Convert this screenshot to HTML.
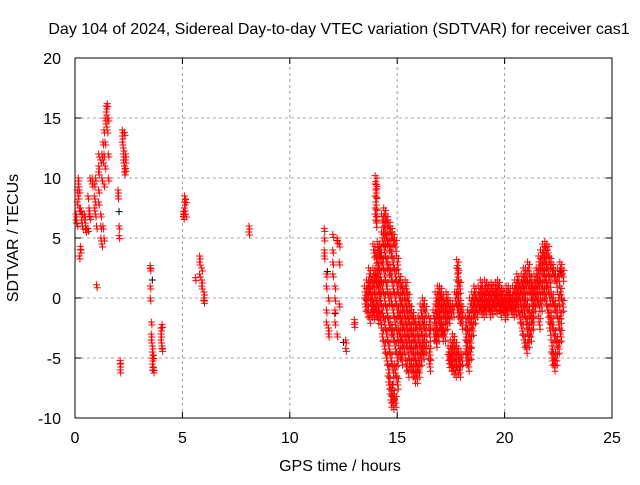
<!DOCTYPE html>
<html><head><meta charset="utf-8"><style>
body{margin:0;background:#fff}
svg text{font-family:"Liberation Sans",sans-serif;font-size:16px;fill:#000}
</style></head><body>
<svg id="chart" width="640" height="480" xmlns="http://www.w3.org/2000/svg">
<rect width="640" height="480" fill="#fff"/>
<text x="339" y="34" text-anchor="middle">Day 104 of 2024, Sidereal Day-to-day VTEC variation (SDTVAR) for receiver cas1</text>
<text transform="translate(18,238) rotate(-90)" text-anchor="middle">SDTVAR / TECUs</text>
<text x="340" y="471" text-anchor="middle">GPS time / hours</text>
<g id="grid"></g>
<g id="axes"></g>
<g id="marks"></g>
</svg>
<script>
const xTicks=[0,5,10,15,20,25];
const yTicks=[-10,-5,0,5,10,15,20];
const groupTimes=[0.05,0.1,0.15,0.2,0.25,0.3,0.35,0.45,0.5,0.6,0.65,0.7,0.8,0.9,0.95,1.0,1.1,1.2,1.25,1.3,1.35,1.4,1.45,1.5,1.55,2.0,2.05,2.1,2.2,2.25,2.3,2.35,3.5,3.55,3.6,3.65,4.0,4.05,5.05,5.1,5.15,5.6,5.8,5.9,6.0,8.1,11.6,11.7,11.8,12.0,12.1,12.2,12.3,12.6,13.0,
13.5,13.6,13.7,13.8,13.9,14.0,14.1,14.2,14.3,14.4,14.5,14.6,14.7,14.8,14.9,15.0,15.1,15.2,15.3,15.4,15.5,15.6,15.7,15.8,15.9,16.0,16.1,16.2,16.3,16.5,16.7,16.8,16.9,17.0,17.1,17.2,17.3,17.4,17.5,17.6,17.7,17.8,17.9,18.0,18.2,18.3,18.4,18.5,18.6,18.7,18.8,18.9,19.0,19.1,19.2,19.3,19.4,19.5,19.6,19.7,19.8,19.9,20.0,20.1,20.2,20.3,20.4,20.5,20.6,20.7,20.8,20.9,21.0,21.1,21.2,21.3,21.4,21.5,21.6,21.7,21.8,21.9,22.0,22.1,22.2,22.3,22.4,22.5,22.6,22.7];
const groupValues=[[6.5,7],[8,9,6.2],[10,9.5,8.5],[9,7.5,3.5],[7.5,4,4.3],[6.5,7.2],[7,6],[7,6.5],[6,5.7],[5.8,8.5],[7.5,7],[6.8,10],
[10,9.5],[9.5,8.5,7.5],[10,8,7],[1.1,6],[12,11,10.5,9,8],[11.5,7,6,5],[12,10,4.5],[13,11.5,6],[14,12,9.5,5],[15,13,11],[16,15.5,14.5],[16.2,15,14],[15,12,10],
[9,8.5],[6,5.2],[-5.5,-6,-5.2],[14,13.5,13],[12.5,12,11.5],[13.8,11,10.5],[12,11.5,10.8],
[2.7,2.5,1,0],[-2,-3,-3.5],[-4,-4.5,-5,-5.5],[-5.8,-6,-4.8],[-2.5,-3,-3.5],[-4,-4.2,-2.2],
[7,6.8,7.2],[8.5,8,7.5],[7,8.2],[1.7],[3.5,3,2],[2.5,1.5,1],[0.5,0,-0.2],[6,5.5],
[5.8,5,4,3.5],[2,1,-1,-2],[-2.5,-3,0],[5.3,4,3,2],[1,0,-1,-2],[-3,5,4.8],[4.5,3,-0.5],[-3.5,-4.2],[-1.8,-2.2],
[0.5,-0.5],[1,0,-1],[2,1,0.5,-1.5],[1.5,0,-1],[4,2,1,-0.5,-1.2],[9.7,9,8,7,6.5,3.5,2,1.5,0,-1],[4.2,3,2,1,-0.5,-1.5],[4,3.5,2,1,0,-1.6],[6.5,5,3,1,-1,-3],[7,6,5,4,2,0,-2,-4],[6.5,5,3,1,-1,-3,-5],[6,4.5,2.5,0,-2,-4,-6,-7],[5.5,4,2,0,-2.5,-5,-7.5,-8.5],[5,3,1,-1,-3,-6,-8,-8.7],[4.5,2,0,-2,-4,-6,-8.5],[3,1,-1,-3,-5,-7],[1.5,0,-1.5,-3,-4.5],[1,-0.5,-2,-3.5,-5],[0.5,-1,-2.5,-4],[1,-0.5,-2,-3.5,-5.5],[0,-1.5,-3,-4.5,-6],[-1,-2.5,-4,-5.5],[-1.5,-3,-4.5,-6],[-2,-3.5,-5,-6.5],[-2.5,-4,-5.5,-6.5],[-2,-3.5,-5,-6],[-1,-2.5,-4,-5],[-0.5,-2,-3.5,-4.5],[-1,-2.5,-4],[-2,-3,-4.5,-5.5],[-1.5,-3],[0,-1,-2,-3,-3.5],[0.5,-0.5,-1.5,-3],[0.5,0,-1,-2,-2.5],[0,-1,-2.5,-3],[-0.5,-1.5,-3],[0,-1,-2],[-0.5,-1.5,-4.5,-5.2],[-1,-4,-5,-5.5],[-1,-3.5,-4.5,-5.8],[0,-4,-5,-6],[2.7,2,1,0,-1,-4.5,-5.8],[1,-0.5,-1.5,-5,-6],[-1,-2,-5],[-2,-3,-4,-5],[-1.5,-3,-4.5,-5.5],[-0.5,-2,-3.5,-4.5],[0,-1,-2.5],[0.5,-0.5,-1.5],[0,-1],[0.5,-0.5],[1,0,-0.8],[0.5,-0.5,-1],[1,0,-0.8],[0.8,-0.3],[0.5,-0.5,-1],[0.8,0,-0.8],[0.5,-0.5],[0.8,0,-0.7],[1,0,-0.5],[0.5,-0.5,-1],[0.3,-0.5],[0,-0.8,-1.2],[0.5,-0.5,-1],[0.5,-0.3],[0,-0.8],[0.5,-0.5,-1],[1,0,-0.8],[1.5,0.5,-0.5],[1,0,-1.5],[1.5,0.5,-1,-2.5],[2,1,0,-1,-3.5],[2,1,-0.5,-2,-4],[2.5,1,-1,-2.5,-3.5],[1.5,0.5,-1.5,-3],[1,0,-1,-2],[1.5,0.5,-0.5],[2,1,0],[3,2,1,-0.5,-2],[3.5,2.5,1,-0.5],[4,3,2,0.5],[4.2,3,1.5,0],[4,2.5,1,-1],[3,1.5,0,-1.5,-2.5],[2.5,0,-2,-4,-5],[2,-0.5,-3,-5,-5.5],[1.5,-1,-3.5,-5],[2,0,-2,-4],[2.5,0.5,-1.5,-3],[2,-0.5]];
const blackTimes=[2.05,3.6,3.62,6.0,11.75,12.1,12.5,14.8,22.6];
const blackValues=[7.2,1.5,-6,-0.2,2.2,-1.3,-3.7,-7.2,2.2];
const X0=75,X1=612,Y0=418,Y1=58;
const sx=t=>X0+(t-0)/(25-0)*(X1-X0);
const sy=v=>Y0-(v-(-10))/(20-(-10))*(Y0-Y1);
const NS="http://www.w3.org/2000/svg";
const grid=document.getElementById('grid'),axes=document.getElementById('axes'),marks=document.getElementById('marks');
function mk(tag,attrs,parent){const e=document.createElementNS(NS,tag);for(const k in attrs)e.setAttribute(k,attrs[k]);parent.appendChild(e);return e;}
xTicks.forEach(t=>{const x=sx(t);
 if(t>0&&t<25){const g=mk('line',{x1:x,y1:Y0,x2:x,y2:Y1,stroke:'#a0a0a0','stroke-dasharray':'3,3'},grid);
 
 }
 mk('line',{x1:x,y1:Y0,x2:x,y2:Y0-6,stroke:'#000'},axes);
 mk('line',{x1:x,y1:Y1,x2:x,y2:Y1+6,stroke:'#000'},axes);
 const l=mk('text',{x:x,y:Y0+25,'text-anchor':'middle'},axes);l.textContent=t;
 
 
});
yTicks.forEach(v=>{const y=sy(v);
 if(v>-10&&v<20){const g=mk('line',{x1:X0,y1:y,x2:X1,y2:y,stroke:'#a0a0a0','stroke-dasharray':'3,3'},grid);
 
 }
 mk('line',{x1:X0,y1:y,x2:X0+6,y2:y,stroke:'#000'},axes);
 mk('line',{x1:X1,y1:y,x2:X1-6,y2:y,stroke:'#000'},axes);
 const l=mk('text',{x:X0-14,y:y+6,'text-anchor':'end'},axes);l.textContent=v;
 
 
});
const fr=mk('rect',{x:X0,y:Y1,width:X1-X0,height:Y0-Y1,fill:'none',stroke:'#000'},axes);


function plus(t,v,col,name){const x=sx(t),y=sy(v);
 const p=mk('path',{d:`M${x-3.5},${y}h7M${x},${y-3.5}v7`,stroke:col,'stroke-width':1,fill:'none'},marks);
 
 }
blackTimes.forEach((t,i)=>plus(t,blackValues[i],'#000','black-point'));
const jitter=[[0,0],[0.03,-0.25],[0.06,0.3],[-0.03,0.5],[0.05,-0.6]];
groupTimes.forEach((t,i)=>{const n=t>=13.5?5:2;groupValues[i].forEach(v=>{for(let k=0;k<n;k++)plus(t+jitter[k][0],v+jitter[k][1],'#f00','sdtvar-point');});});
</script>
</body></html>
